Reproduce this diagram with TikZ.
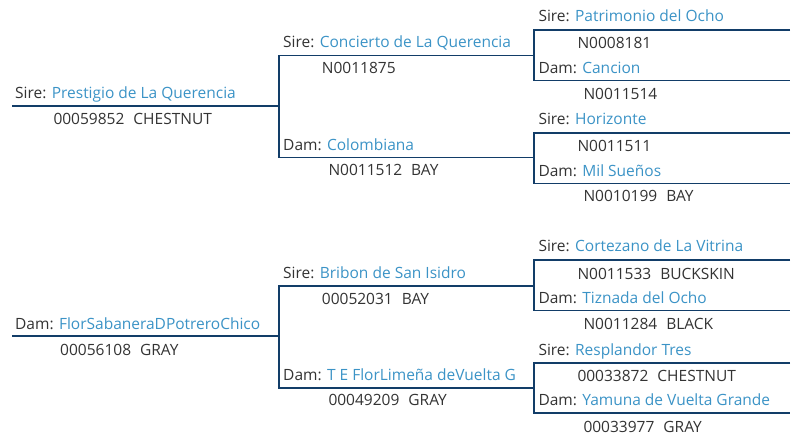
\documentclass[tikz,border=0pt]{standalone}
\usepackage{fontspec}
\setmainfont{Open Sans}
\definecolor{pedline}{HTML}{123D68}
\definecolor{pedname}{HTML}{3B93C6}
\definecolor{pedtext}{HTML}{333333}
% name of a parent: role in dark, name in blue
\newcommand{\horse}[2]{#1: \textcolor{pedname}{#2}}
% registration number and colour
\newcommand{\regcol}[2]{#1\hspace{9pt}#2}
\begin{document}
\begin{tikzpicture}[x=1pt,y=-1pt,
    lbl/.style={anchor=base west, inner sep=0pt, text=pedtext, font=\fontsize{15.5}{18}\selectfont},
    pline/.style={pedline, line width=1.7pt}]
    % Fix the canvas
    \useasboundingbox (0,0) rectangle (799,443);

    % First generation: sire
    \node[lbl] (s) at (15,99) {\horse{Sire}{Prestigio de La Querencia}};
    \node[lbl] (sid) at (53.3,125) {\regcol{00059852}{CHESTNUT}};
    \coordinate (sa) at (12,106);
    \coordinate (sb) at (279,106);

    % First generation: dam
    \node[lbl] (d) at (15,329) {\horse{Dam}{FlorSabaneraDPotreroChico}};
    \node[lbl] (did) at (60,355) {\regcol{00056108}{GRAY}};
    \coordinate (da) at (12,336);
    \coordinate (db) at (279,336);

    % Second generation, sire side
    \node[lbl] (ss) at (283,47.5) {\horse{Sire}{Concierto de La Querencia}};
    \node[lbl] (ssid) at (321.7,74) {N0011875};
    \node[lbl] (sd) at (283,150.5) {\horse{Dam}{Colombiana}};
    \node[lbl] (sdid) at (328.3,176) {\regcol{N0011512}{BAY}};
    \coordinate (ssa) at (279,55.5);
    \coordinate (ssb) at (534.3,55.5);
    \coordinate (sda) at (279,157.5);
    \coordinate (sdb) at (534.3,157.5);

    % Second generation, dam side
    \node[lbl] (ds) at (283,278) {\horse{Sire}{Bribon de San Isidro}};
    \node[lbl] (dsid) at (321.7,304.3) {\regcol{00052031}{BAY}};
    \node[lbl] (dd) at (283,380.7) {\horse{Dam}{T E FlorLimeña deVuelta G}};
    \node[lbl] (ddid) at (328.3,405.7) {\regcol{00049209}{GRAY}};
    \coordinate (dsa) at (279,285.7);
    \coordinate (dsb) at (534.3,285.7);
    \coordinate (dda) at (279,387.7);
    \coordinate (ddb) at (534.3,387.7);

    % Third generation, over Concierto de La Querencia
    \node[lbl] (sss) at (538.3,21.5) {\horse{Sire}{Patrimonio del Ocho}};
    \node[lbl] (sssid) at (577.3,49) {N0008181};
    \node[lbl] (ssd) at (538.3,73.5) {\horse{Dam}{Cancion}};
    \node[lbl] (ssdid) at (583.3,99.5) {N0011514};
    \coordinate (sssa) at (534.3,30);
    \coordinate (sssb) at (790,30);
    \coordinate (ssda) at (534.3,80.5);
    \coordinate (ssdb) at (790,80.5);

    % Third generation, over Colombiana
    \node[lbl] (sds) at (538.3,124.5) {\horse{Sire}{Horizonte}};
    \node[lbl] (sdsid) at (577.3,152) {N0011511};
    \node[lbl] (sdd) at (538.3,176.5) {\horse{Dam}{Mil Sueños}};
    \node[lbl] (sddid) at (583.3,202) {\regcol{N0010199}{BAY}};
    \coordinate (sdsa) at (534.3,133);
    \coordinate (sdsb) at (790,133);
    \coordinate (sdda) at (534.3,183.5);
    \coordinate (sddb) at (790,183.5);

    % Third generation, over Bribon de San Isidro
    \node[lbl] (dss) at (538.3,251.5) {\horse{Sire}{Cortezano de La Vitrina}};
    \node[lbl] (dssid) at (577.3,279) {\regcol{N0011533}{BUCKSKIN}};
    \node[lbl] (dsd) at (538.3,303.5) {\horse{Dam}{Tiznada del Ocho}};
    \node[lbl] (dsdid) at (583.3,329) {\regcol{N0011284}{BLACK}};
    \coordinate (dssa) at (534.3,260);
    \coordinate (dssb) at (790,260);
    \coordinate (dsda) at (534.3,310.5);
    \coordinate (dsdb) at (790,310.5);

    % Third generation, over T E FlorLimeña deVuelta G
    \node[lbl] (dds) at (538.3,355) {\horse{Sire}{Resplandor Tres}};
    \node[lbl] (ddsid) at (577.3,381) {\regcol{00033872}{CHESTNUT}};
    \node[lbl] (ddd) at (538.3,405.5) {\horse{Dam}{Yamuna de Vuelta Grande}};
    \node[lbl] (dddid) at (583.3,432) {\regcol{00033977}{GRAY}};
    \coordinate (ddsa) at (534.3,363.3);
    \coordinate (ddsb) at (790,363.3);
    \coordinate (ddda) at (534.3,413.3);
    \coordinate (dddb) at (790,413.3);

    % Connect the generations
    \draw[pline] (sa) -- (sb);
    \draw[pline] (da) -- (db);
    \draw[pline] (ssb) -- (ssa) -- (sda) -- (sdb);
    \draw[pline] (dsb) -- (dsa) -- (dda) -- (ddb);
    \draw[pline] (sssb) -- (sssa) -- (ssda) -- (ssdb);
    \draw[pline] (sdsb) -- (sdsa) -- (sdda) -- (sddb);
    \draw[pline] (dssb) -- (dssa) -- (dsda) -- (dsdb);
    \draw[pline] (ddsb) -- (ddsa) -- (ddda) -- (dddb);
\end{tikzpicture}
\end{document}
